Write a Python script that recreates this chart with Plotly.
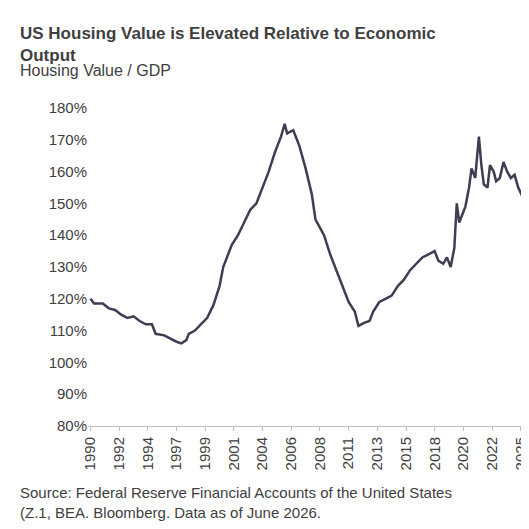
import plotly.graph_objects as go

# quarterly-ish readings (decimal year, housing value / GDP in %)
years = [1990.0, 1990.3, 1991.0, 1991.5, 1992.0, 1992.5, 1993.0, 1993.5, 1994.0, 1994.5,
         1995.0, 1995.3, 1996.0, 1996.5, 1997.0, 1997.4, 1997.8, 1998.0, 1998.5, 1999.0,
         1999.5, 2000.0, 2000.5, 2000.8, 2001.0, 2001.5, 2002.0, 2002.5, 2003.0, 2003.5,
         2004.0, 2004.5, 2005.0, 2005.5, 2005.8, 2006.0, 2006.5, 2007.0, 2007.5, 2008.0,
         2008.3, 2008.7, 2009.0, 2009.5, 2010.0, 2010.5, 2011.0, 2011.5, 2011.8, 2012.3,
         2012.7, 2013.0, 2013.5, 2014.0, 2014.5, 2015.0, 2015.5, 2016.0, 2016.5, 2017.0,
         2017.5, 2018.0, 2018.3, 2018.7, 2019.0, 2019.3, 2019.6, 2019.8, 2020.0, 2020.5,
         2020.8, 2021.0, 2021.3, 2021.6, 2021.8, 2022.0, 2022.3, 2022.5, 2022.8, 2023.0,
         2023.3, 2023.6, 2023.9, 2024.2, 2024.5, 2024.8, 2025.1, 2025.5, 2025.8]
ratio = [120, 118.5, 118.5, 117, 116.5, 115, 114, 114.5, 113, 112,
         112, 109, 108.5, 107.5, 106.5, 106, 107, 109, 110, 112,
         114, 118, 124, 130, 132, 137, 140, 144, 148, 150,
         155, 160, 166, 171, 175, 172, 173, 168, 161, 153,
         145, 142, 140, 134, 129, 124, 119, 116, 111.5, 112.5,
         113, 116, 119, 120, 121, 124, 126, 129, 131, 133,
         134, 135, 132, 131, 133, 130, 136, 150, 144, 149,
         155, 161, 158, 171, 162, 156, 155, 162, 160, 157,
         158, 163, 160, 158, 159, 155, 152.5, 153, 154]

tick_years = [1990, 1992.33, 1994.67, 1997, 1999.33, 2001.67, 2004, 2006.33, 2008.67,
              2011, 2013.33, 2015.67, 2018, 2020.33, 2022.67, 2025]
tick_text = ["1990", "1992", "1994", "1997", "1999", "2001", "2004", "2006", "2008",
             "2011", "2013", "2015", "2018", "2020", "2022", "2025"]

fig = go.Figure(go.Scatter(x=years, y=ratio, mode="lines",
                           line=dict(color="#3f3d52", width=2.5)))

fig.update_layout(
    width=529, height=529,
    paper_bgcolor="white", plot_bgcolor="white",
    font=dict(family="Liberation Sans, Arial", color="#404040", size=15),
    margin=dict(l=80, r=4, t=100, b=111),
    showlegend=False,
)
fig.add_annotation(text="<b>US Housing Value is Elevated Relative to Economic<br>Output</b>",
                   xref="paper", yref="paper", x=-0.157, y=1.27,
                   xanchor="left", yanchor="top", align="left",
                   showarrow=False, font=dict(size=17))
fig.add_annotation(text="Housing Value / GDP", xref="paper", yref="paper",
                   x=-0.157, y=1.085, xanchor="left", yanchor="bottom",
                   showarrow=False, font=dict(size=16))
fig.add_annotation(text="Source: Federal Reserve Financial Accounts of the United States<br>(Z.1, BEA. Bloomberg. Data as of June 2026.",
                   xref="paper", yref="paper", x=-0.157, y=-0.175,
                   xanchor="left", yanchor="top", align="left",
                   showarrow=False, font=dict(size=15))

fig.update_xaxes(range=[1989.8, 2026.0], tickvals=tick_years, ticktext=tick_text,
                 tickangle=-90, showgrid=False, showline=True, linecolor="#bfbfbf",
                 ticks="outside", tickcolor="#bfbfbf", ticklen=4)
fig.update_yaxes(range=[80, 180], dtick=10, ticksuffix="%", showgrid=False,
                 zeroline=False)

fig.write_html("out.html")
